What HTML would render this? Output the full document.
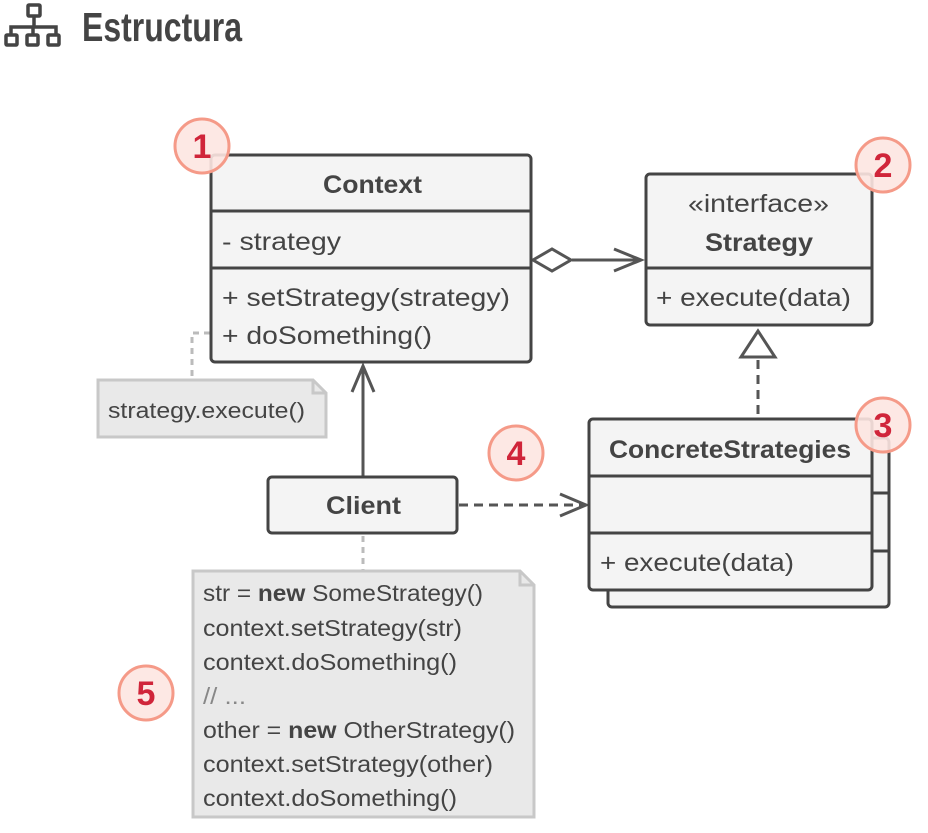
<!DOCTYPE html>
<html><head><meta charset="utf-8"><style>
html,body{margin:0;padding:0;background:#fff;}
svg{display:block;font-family:"Liberation Sans",sans-serif;}
</style></head><body>
<svg width="928" height="833" viewBox="0 0 928 833" xmlns="http://www.w3.org/2000/svg">
<g fill="none" stroke="#444" stroke-width="3.5">
<rect x="28" y="5" width="12" height="11" rx="1"/>
<path d="M34 16V26M11 34V27H56V34M33 27V34"/>
<rect x="6" y="35" width="11" height="10" rx="1"/>
<rect x="27" y="35" width="11" height="10" rx="1"/>
<rect x="48" y="35" width="11" height="10" rx="1"/>
</g>
<text x="82" y="41" font-size="41" font-weight="bold" fill="#444" textLength="160" lengthAdjust="spacingAndGlyphs">Estructura</text>

<g stroke="#bbb" stroke-width="3" fill="none" stroke-dasharray="6,5">
<path d="M210 333H192V380"/>
<path d="M363 536V570"/>
</g>
<g stroke="#555" stroke-width="3" fill="none">
<path d="M572 260H640"/>
<path d="M614 249L641 260L614 271"/>
<path d="M533 260L552 249L571 260L552 271Z" fill="#fff"/>
<path d="M363 477V366"/>
<path d="M352 392L363 366L374 392"/>
<path d="M459 505H585" stroke-dasharray="9,6"/>
<path d="M560 494L586 505L560 516"/>
<path d="M758 360V419" stroke-dasharray="9,6"/>
<path d="M758 331L741 357H775Z" fill="#fff"/>
</g>

<path d="M98 380H313L326 393V437H98Z" fill="#e9e9e9" stroke="#c8c8c8" stroke-width="3"/>
<path d="M313 380V393H326" fill="none" stroke="#c8c8c8" stroke-width="3"/>
<text x="108" y="418" font-size="22" fill="#444" textLength="197" lengthAdjust="spacingAndGlyphs">strategy.execute()</text>

<path d="M193 571H520L534 585V817H193Z" fill="#e9e9e9" stroke="#c8c8c8" stroke-width="3"/>
<path d="M520 571V585H534" fill="none" stroke="#c8c8c8" stroke-width="3"/>
<g font-size="23" fill="#444">
<text x="203" y="601" textLength="280" lengthAdjust="spacingAndGlyphs">str = <tspan font-weight="bold">new</tspan> SomeStrategy()</text>
<text x="203" y="636" textLength="259" lengthAdjust="spacingAndGlyphs">context.setStrategy(str)</text>
<text x="203" y="670" textLength="254" lengthAdjust="spacingAndGlyphs">context.doSomething()</text>
<text x="203" y="704" fill="#888" textLength="43" lengthAdjust="spacingAndGlyphs">// ...</text>
<text x="203" y="738" textLength="312" lengthAdjust="spacingAndGlyphs">other = <tspan font-weight="bold">new</tspan> OtherStrategy()</text>
<text x="203" y="772" textLength="290" lengthAdjust="spacingAndGlyphs">context.setStrategy(other)</text>
<text x="203" y="806" textLength="254" lengthAdjust="spacingAndGlyphs">context.doSomething()</text>
</g>

<g stroke="#444" stroke-width="3" fill="#f4f4f4">
<rect x="211" y="155" width="320" height="207" rx="4"/>
<path d="M211 211H531M211 268H531" fill="none"/>
</g>
<g fill="#444" font-size="25">
<text x="323" y="193" font-weight="bold" textLength="99" lengthAdjust="spacingAndGlyphs">Context</text>
<text x="222" y="250" textLength="119" lengthAdjust="spacingAndGlyphs">- strategy</text>
<text x="222" y="306" textLength="288" lengthAdjust="spacingAndGlyphs">+ setStrategy(strategy)</text>
<text x="222" y="344" textLength="210" lengthAdjust="spacingAndGlyphs">+ doSomething()</text>
</g>

<g stroke="#444" stroke-width="3" fill="#f4f4f4">
<rect x="646" y="174" width="226" height="151" rx="4"/>
<path d="M646 268H872" fill="none"/>
</g>
<g fill="#444" font-size="25">
<text x="688" y="212" textLength="141" lengthAdjust="spacingAndGlyphs">«interface»</text>
<text x="705" y="251" font-weight="bold" textLength="108" lengthAdjust="spacingAndGlyphs">Strategy</text>
<text x="656" y="306" textLength="195" lengthAdjust="spacingAndGlyphs">+ execute(data)</text>
</g>

<g stroke="#444" stroke-width="3" fill="#f4f4f4">
<rect x="608" y="438" width="281" height="169" rx="4"/>
<path d="M872 493H889M872 551H889" fill="none"/>
<rect x="589" y="419" width="283" height="171" rx="4"/>
<path d="M589 476H872M589 533H872" fill="none"/>
</g>
<g fill="#444" font-size="25">
<text x="609" y="458" font-weight="bold" textLength="242" lengthAdjust="spacingAndGlyphs">ConcreteStrategies</text>
<text x="600" y="571" textLength="194" lengthAdjust="spacingAndGlyphs">+ execute(data)</text>
</g>

<rect x="268" y="477" width="189" height="56" rx="4" fill="#f4f4f4" stroke="#444" stroke-width="3"/>
<text x="326" y="514" font-size="25" font-weight="bold" fill="#444" textLength="75" lengthAdjust="spacingAndGlyphs">Client</text>

<g stroke="#f59a88" stroke-width="3" fill="#fde6e1" fill-opacity="0.9">
<circle cx="202" cy="146" r="27"/>
<circle cx="883" cy="165" r="27"/>
<circle cx="883" cy="425" r="27"/>
<circle cx="516" cy="453" r="27"/>
<circle cx="146" cy="693" r="27"/>
</g>
<g fill="#d0253a" font-size="34" font-weight="bold" text-anchor="middle">
<text x="202" y="158">1</text>
<text x="883" y="177">2</text>
<text x="883" y="437">3</text>
<text x="516" y="465">4</text>
<text x="146" y="705">5</text>
</g>
</svg>
</body></html>
